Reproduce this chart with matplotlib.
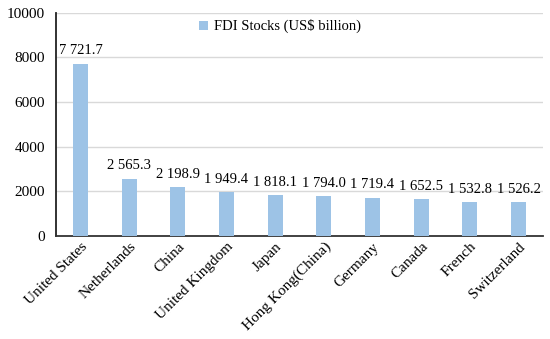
import numpy as np
import matplotlib.pyplot as plt

plt.rcParams['font.family'] = ['Liberation Serif', 'DejaVu Serif']

countries = ['United States', 'Netherlands', 'China', 'United Kingdom', 'Japan',
             'Hong Kong(China)', 'Germany', 'Canada', 'French', 'Switzerland']
stocks = [7721.7, 2565.3, 2198.9, 1949.4, 1818.1, 1794.0, 1719.4, 1652.5, 1532.8, 1526.2]

fig = plt.figure(figsize=(5.5, 3.39), dpi=100)
ax = fig.add_axes([0.102, 0.304, 0.885, 0.658])

x = np.arange(len(countries))
ax.bar(x, stocks, width=0.31, color='#9DC3E6', label='FDI Stocks (US$ billion)', zorder=3)

for xi, v in zip(x, stocks):
    s = f'{v:,.1f}'.replace(',', ' ')
    ax.text(xi, v + 280, s, ha='center', va='bottom', fontsize=10.5)

ax.set_xlim(-0.5, len(countries) - 0.5)
ax.set_ylim(0, 10000)
ax.set_yticks(range(0, 10001, 2000))
ax.tick_params(axis='y', labelsize=11, length=0, pad=8)
ax.tick_params(axis='x', labelsize=11, length=0, pad=3)
ax.set_xticks(x)
ax.set_xticklabels(countries, rotation=45, ha='right', rotation_mode='anchor')
ax.grid(axis='y', color='#D9D9D9', linewidth=1, zorder=0)

for side in ['top', 'right']:
    ax.spines[side].set_visible(False)
ax.spines['left'].set_color('#222222')
ax.spines['bottom'].set_color('#333333')
ax.spines['left'].set_linewidth(1.3)
ax.spines['bottom'].set_linewidth(1.3)

ax.legend(loc='upper center', bbox_to_anchor=(0.46, 1.03), frameon=False, fontsize=10.5,
          handlelength=0.6, handleheight=0.6, handletextpad=0.4)

fig.savefig('out.png', dpi=100)
